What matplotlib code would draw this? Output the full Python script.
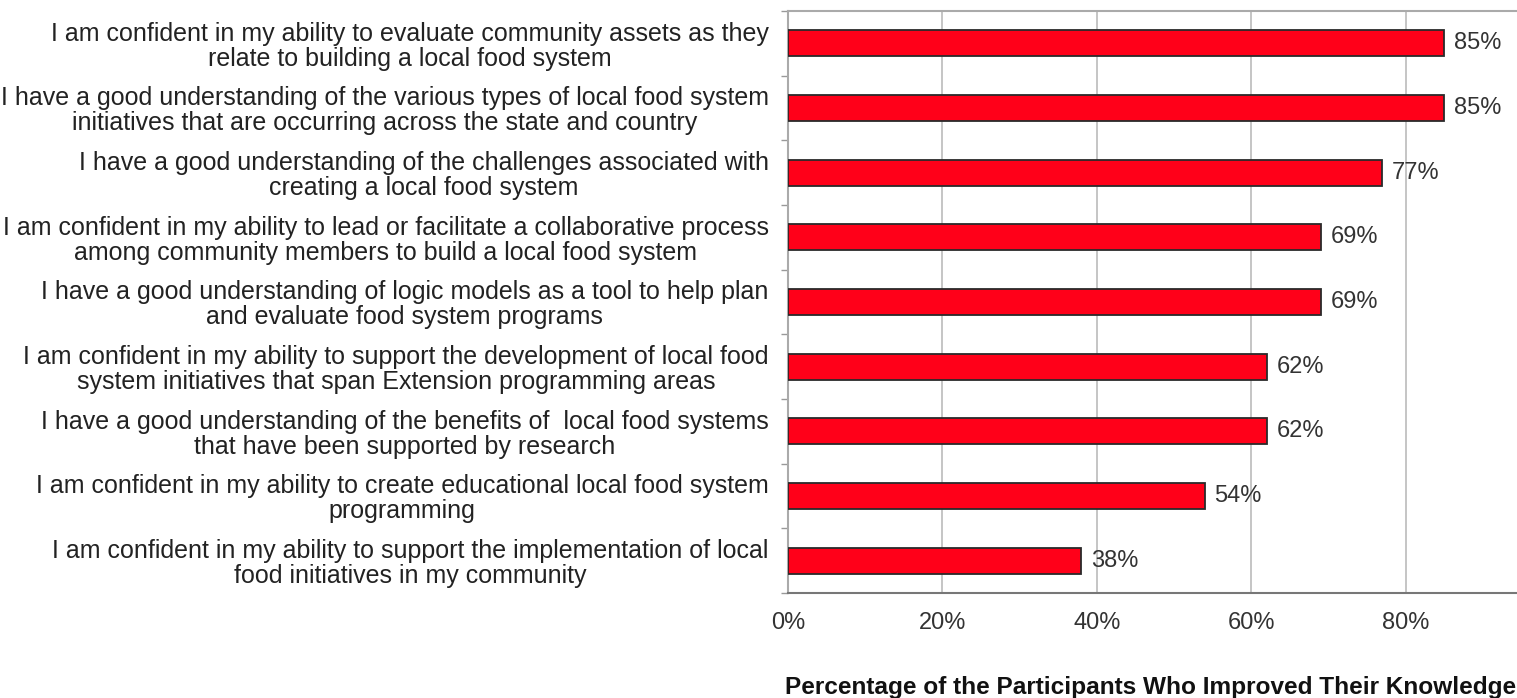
import matplotlib
matplotlib.use("Agg")
import matplotlib.pyplot as plt
import numpy as np

plt.rcParams['font.family'] = ['Liberation Sans', 'DejaVu Sans']

categories = [
    "I am confident in my ability to evaluate community assets as they\nrelate to building a local food system",
    "I have a good understanding of the various types of local food system\ninitiatives that are occurring across the state and country",
    "I have a good understanding of the challenges associated with\ncreating a local food system",
    "I am confident in my ability to lead or facilitate a collaborative process\namong community members to build a local food system",
    "I have a good understanding of logic models as a tool to help plan\nand evaluate food system programs",
    "I am confident in my ability to support the development of local food\nsystem initiatives that span Extension programming areas",
    "I have a good understanding of the benefits of  local food systems\nthat have been supported by research",
    "I am confident in my ability to create educational local food system\nprogramming",
    "I am confident in my ability to support the implementation of local\nfood initiatives in my community",
]
values = [85, 85, 77, 69, 69, 62, 62, 54, 38]
xticks = [0, 20, 40, 60, 80]
xtick_labels = ["0%", "20%", "40%", "60%", "80%"]
xlabel = "Percentage of the Participants Who Improved Their Knowledge"

W, H = 1517, 698
fig = plt.figure(figsize=(W / 100, H / 100), dpi=100)
left, right, top, bottom = 788, 1560, 11, 593
ax = fig.add_axes([left / W, 1 - bottom / H, (right - left) / W, (bottom - top) / H])

n = len(categories)
y = np.arange(n)
ax.barh(y, values, height=0.4, color='#FF0019', edgecolor='#2a2a2a', linewidth=1.3, zorder=3)
ax.set_ylim(n - 0.5, -0.5)
ax.set_xlim(0, 100)

ax.set_yticks(y)
ax.set_yticklabels(categories, fontsize=18, color='#222222', linespacing=1.05)
for t in ax.get_yticklabels():
    t.set_multialignment('center')
    t.set_y(t.get_position()[1])
ax.tick_params(axis='y', which='major', length=0, pad=14)
ax.set_yticks(np.arange(n + 1) - 0.5, minor=True)
ax.tick_params(axis='y', which='minor', length=5, color='#999999', width=1)

ax.set_xticks(xticks)
ax.set_xticklabels(xtick_labels, fontsize=17, color='#333333')
ax.tick_params(axis='x', length=0, pad=14)
ax.grid(axis='x', color='#bbbbbb', linewidth=1.2, zorder=0)

for s in ['left', 'top', 'right']:
    ax.spines[s].set_color('#aaaaaa')
    ax.spines[s].set_linewidth(1.5)
ax.spines['bottom'].set_color('#777777')
ax.spines['bottom'].set_linewidth(1.5)

for yi, v in zip(y, values):
    ax.annotate(f"{v}%", (v, yi), xytext=(7, 0), textcoords='offset points',
                va='center', ha='left', fontsize=17, color='#333333')

fig.text(785 / W, 1 - 694 / H, xlabel, ha='left', va='baseline',
         fontsize=17.6, fontweight='bold', color='#111111')

fig.savefig("out.png", dpi=100)
